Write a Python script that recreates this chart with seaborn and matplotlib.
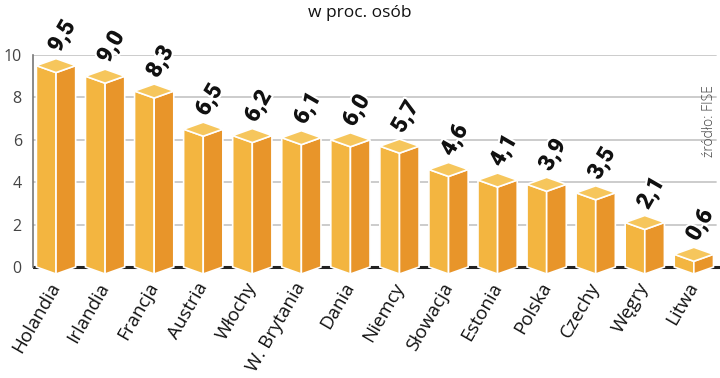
import matplotlib
matplotlib.use("Agg")
import matplotlib.pyplot as plt
import matplotlib.patheffects as pe
import seaborn as sns
import pandas as pd

# Data
countries = ["Holandia", "Irlandia", "Francja", "Austria", "Włochy", "W. Brytania", "Dania",
             "Niemcy", "Słowacja", "Estonia", "Polska", "Czechy", "Węgry", "Litwa"]
values = [9.5, 9.0, 8.3, 6.5, 6.2, 6.1, 6.0, 5.7, 4.6, 4.1, 3.9, 3.5, 2.1, 0.6]
yticks = [0, 2, 4, 6, 8, 10]

df = pd.DataFrame({"country": countries, "value": values})

front_c = "#F3B540"
side_c = "#E8952A"
top_c = "#F6C65C"
depth = 0.33  # vertical drop of the front edge in data units

sns.set_style("white")
plt.rcParams["font.family"] = ["Open Sans", "DejaVu Sans"]

fig = plt.figure(figsize=(7.2, 3.78), dpi=100)
ax = fig.add_axes([0.0458, 0.26, 0.954, 0.5945])

sns.barplot(data=df, x="country", y="value", color=front_c, width=0.8, ax=ax, zorder=3)

# turn flat bars into 3D prisms
for p, v in zip(ax.patches, values):
    x0 = p.get_x()
    w = p.get_width()
    xc = x0 + w / 2
    x1 = x0 + w
    p.set_visible(False)
    ax.fill([x0, x0, xc, xc], [0, v, v - depth, -depth], color=front_c,
            ec="white", lw=1.2, zorder=3)
    ax.fill([xc, xc, x1, x1], [-depth, v - depth, v, 0], color=side_c,
            ec="white", lw=1.2, zorder=3)
    ax.fill([x0, xc, x1, xc], [v, v - depth, v, v + depth], color=top_c,
            ec="white", lw=1.2, zorder=4)

# value labels
for i, v in enumerate(values):
    ax.text(i + 0.12, v + 1.38, f"{v:.1f}".replace(".", ","), rotation=60,
            ha="center", va="center", fontsize=16.5, fontweight="heavy",
            family=["Roboto", "DejaVu Sans"], color="#111111", zorder=6, clip_on=False,
            path_effects=[pe.withStroke(linewidth=3, foreground="white")])

# grid
for t in yticks[1:]:
    ax.axhline(t, xmax=0.995, color="#C8C8C8", lw=1.3, zorder=1)
ax.axhline(0, color="#222222", lw=2.2, zorder=1)

ax.set_xlim(-0.47, 13.53)
ax.set_ylim(-0.6, 10)
ax.set_yticks(yticks)
ax.set_yticklabels([str(t) for t in yticks], fontsize=11.5, color="#444444")
ax.tick_params(axis="y", length=0, pad=8)
ax.tick_params(axis="x", length=0, pad=3)
ax.set_xticks(range(len(countries)))
ax.set_xticklabels(countries, rotation=60, ha="right", va="center", rotation_mode="anchor",
                   fontsize=13.5, color="#111111")
ax.set_xlabel("")
ax.set_ylabel("")

for s in ["top", "right", "bottom"]:
    ax.spines[s].set_visible(False)
ax.spines["left"].set_bounds(0, 10)
ax.spines["left"].set_color("#777777")
ax.spines["left"].set_linewidth(1.2)

fig.text(0.5, 0.965, "w proc. osób", ha="center", va="center", fontsize=12.5, color="#111111")
fig.text(0.986, 0.68, "źródło: FISE", rotation=90, ha="center", va="center",
         fontsize=10, fontweight="light", color="#444444")

fig.savefig("out.png", dpi=100)
